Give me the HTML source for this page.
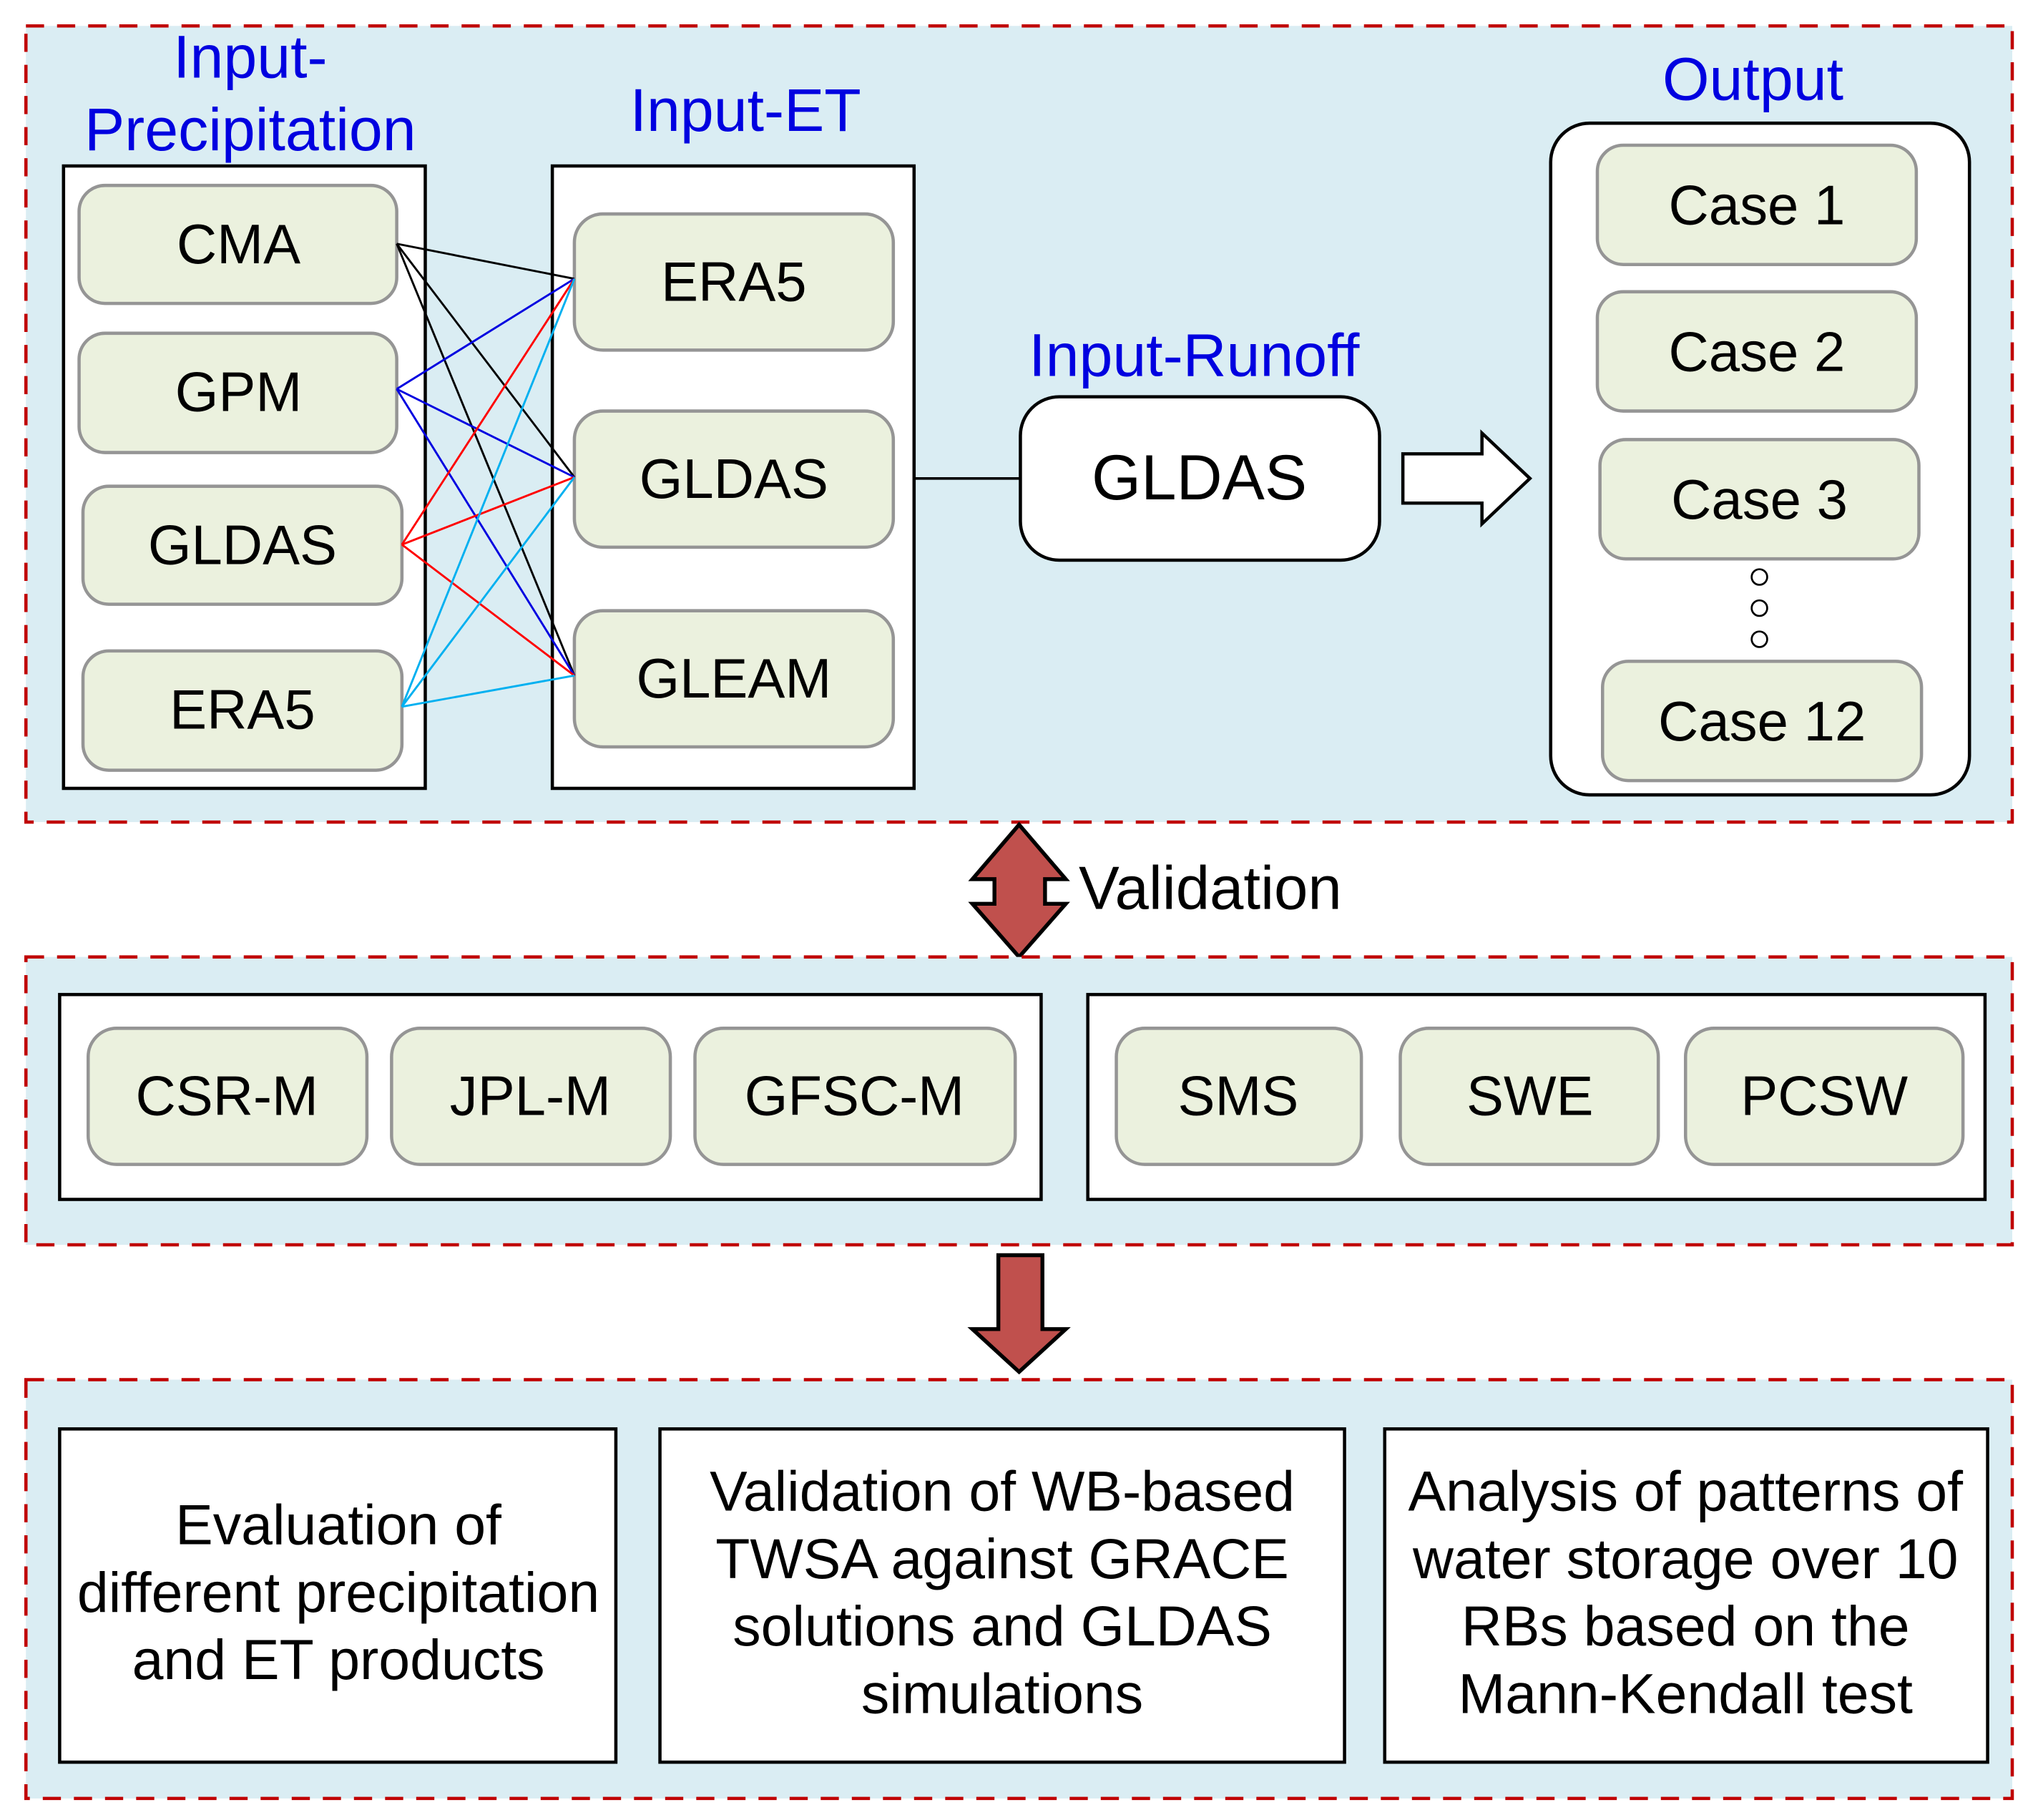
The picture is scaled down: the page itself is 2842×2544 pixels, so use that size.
<!DOCTYPE html>
<html><head><meta charset="utf-8"><style>html,body{margin:0;padding:0;background:#fff}svg{display:block}text{font-family:"Liberation Sans",sans-serif}</style></head>
<body>
<svg width="2842" height="2544" viewBox="0 0 1568 1403.6" preserveAspectRatio="none" xmlns="http://www.w3.org/2000/svg">
<defs>
<style>
.pn{fill:#daedf3;stroke:#c00000;stroke-width:2.5;stroke-dasharray:14 10}
.bx{fill:#fff;stroke:#000;stroke-width:2.5}
.nd{fill:#ebf1de;stroke:#959595;stroke-width:2.5}
.t{font-size:43px;fill:#000;text-anchor:middle}
.tb{font-size:43.5px;fill:#000;text-anchor:middle}
.b{font-size:46.5px;fill:#0000e0;text-anchor:middle}
.ar{fill:#c0504d;stroke:#000;stroke-width:3;stroke-linejoin:miter}
</style>
</defs>
<rect width="1568" height="1404" fill="#fff"/>
<!-- panel 1 -->
<rect class="pn" x="20" y="20" width="1532" height="614"/>
<rect class="bx" x="49" y="128" width="279" height="480"/>
<rect class="bx" x="426" y="128" width="279" height="480"/>
<rect class="nd" x="61" y="143" width="245" height="91" rx="20"/>
<rect class="nd" x="61" y="257" width="245" height="92" rx="20"/>
<rect class="nd" x="64" y="375" width="246" height="91" rx="20"/>
<rect class="nd" x="64" y="502" width="246" height="92" rx="20"/>
<rect class="nd" x="443" y="165" width="246" height="105" rx="22"/>
<rect class="nd" x="443" y="317" width="246" height="105" rx="22"/>
<rect class="nd" x="443" y="471" width="246" height="105" rx="22"/>
<g stroke-width="1.6" fill="none">
<g stroke="#000"><line x1="306" y1="188" x2="443" y2="215"/><line x1="306" y1="188" x2="443" y2="368"/><line x1="306" y1="188" x2="443" y2="521"/></g>
<g stroke="#0000e0"><line x1="306" y1="300" x2="443" y2="215"/><line x1="306" y1="300" x2="443" y2="368"/><line x1="306" y1="300" x2="443" y2="521"/></g>
<g stroke="#ff0000"><line x1="310" y1="420" x2="443" y2="215"/><line x1="310" y1="420" x2="443" y2="368"/><line x1="310" y1="420" x2="443" y2="521"/></g>
<g stroke="#00b0f0"><line x1="310" y1="545" x2="443" y2="215"/><line x1="310" y1="545" x2="443" y2="368"/><line x1="310" y1="545" x2="443" y2="521"/></g>
</g>
<text class="t" x="184" y="203">CMA</text>
<text class="t" x="184" y="317">GPM</text>
<text class="t" x="187" y="435">GLDAS</text>
<text class="t" x="187" y="562">ERA5</text>
<text class="t" x="566" y="232">ERA5</text>
<text class="t" x="566" y="384">GLDAS</text>
<text class="t" x="566" y="538">GLEAM</text>
<text class="b" x="193" y="60">Input-</text>
<text class="b" x="193" y="116">Precipitation</text>
<text class="b" x="575" y="101">Input-ET</text>
<text class="b" x="921" y="290">Input-Runoff</text>
<text class="b" x="1352" y="77">Output</text>
<line x1="705" y1="369" x2="787" y2="369" stroke="#000" stroke-width="2"/>
<rect x="787" y="306" width="277" height="126" rx="30" fill="#fff" stroke="#000" stroke-width="2.5"/>
<text class="t" x="925" y="385" style="font-size:49px">GLDAS</text>
<path d="M1082 350 H1143 V334 L1180 369 L1143 404 V388 H1082 Z" fill="#fff" stroke="#000" stroke-width="2.5"/>
<rect x="1196" y="95" width="323" height="518" rx="30" fill="#fff" stroke="#000" stroke-width="2.5"/>
<rect class="nd" x="1232" y="112" width="246" height="92" rx="20"/>
<rect class="nd" x="1232" y="225" width="246" height="92" rx="20"/>
<rect class="nd" x="1234" y="339" width="246" height="92" rx="20"/>
<rect class="nd" x="1236" y="510" width="246" height="92" rx="20"/>
<text class="t" x="1355" y="173">Case 1</text>
<text class="t" x="1355" y="286">Case 2</text>
<text class="t" x="1357" y="400">Case 3</text>
<text class="t" x="1359" y="571">Case 12</text>
<g fill="#fff" stroke="#000" stroke-width="1.5"><circle cx="1357" cy="445" r="6"/><circle cx="1357" cy="469" r="6"/><circle cx="1357" cy="493" r="6"/></g>
<!-- validation arrow -->
<path class="ar" d="M786 636 L822 678 H806 V697 H822 L786 738 L750 697 H767 V678 H750 Z"/>
<text x="832" y="701" style="font-size:47px" fill="#000">Validation</text>
<!-- panel 2 -->
<rect class="pn" x="20" y="738" width="1532" height="222"/>
<rect class="bx" x="46" y="767" width="757" height="158"/>
<rect class="bx" x="839" y="767" width="692" height="158"/>
<rect class="nd" x="68" y="793" width="215" height="105" rx="22"/>
<rect class="nd" x="302" y="793" width="215" height="105" rx="22"/>
<rect class="nd" x="536" y="793" width="247" height="105" rx="22"/>
<rect class="nd" x="861" y="793" width="189" height="105" rx="22"/>
<rect class="nd" x="1080" y="793" width="199" height="105" rx="22"/>
<rect class="nd" x="1300" y="793" width="214" height="105" rx="22"/>
<text class="t" x="175" y="860">CSR-M</text>
<text class="t" x="409" y="860">JPL-M</text>
<text class="t" x="659" y="860">GFSC-M</text>
<text class="t" x="955" y="860">SMS</text>
<text class="t" x="1180" y="860">SWE</text>
<text class="t" x="1407" y="860">PCSW</text>
<!-- down arrow -->
<path class="ar" d="M770 968 H804 V1025 H822 L786 1058 L750 1025 H770 Z"/>
<!-- panel 3 -->
<rect class="pn" x="20" y="1064" width="1532" height="323"/>
<rect class="bx" x="46" y="1102" width="429" height="257"/>
<rect class="bx" x="509" y="1102" width="528" height="257"/>
<rect class="bx" x="1068" y="1102" width="465" height="257"/>
<text class="tb" x="261" y="1191">Evaluation of</text>
<text class="tb" x="261" y="1243">different precipitation</text>
<text class="tb" x="261" y="1295">and ET products</text>
<text class="tb" x="773" y="1165">Validation of WB-based</text>
<text class="tb" x="773" y="1217">TWSA against GRACE</text>
<text class="tb" x="773" y="1269">solutions and GLDAS</text>
<text class="tb" x="773" y="1321">simulations</text>
<text class="tb" x="1300" y="1165">Analysis of patterns of</text>
<text class="tb" x="1300" y="1217">water storage over 10</text>
<text class="tb" x="1300" y="1269">RBs based on the</text>
<text class="tb" x="1300" y="1321">Mann-Kendall test</text>
</svg>
</body></html>
